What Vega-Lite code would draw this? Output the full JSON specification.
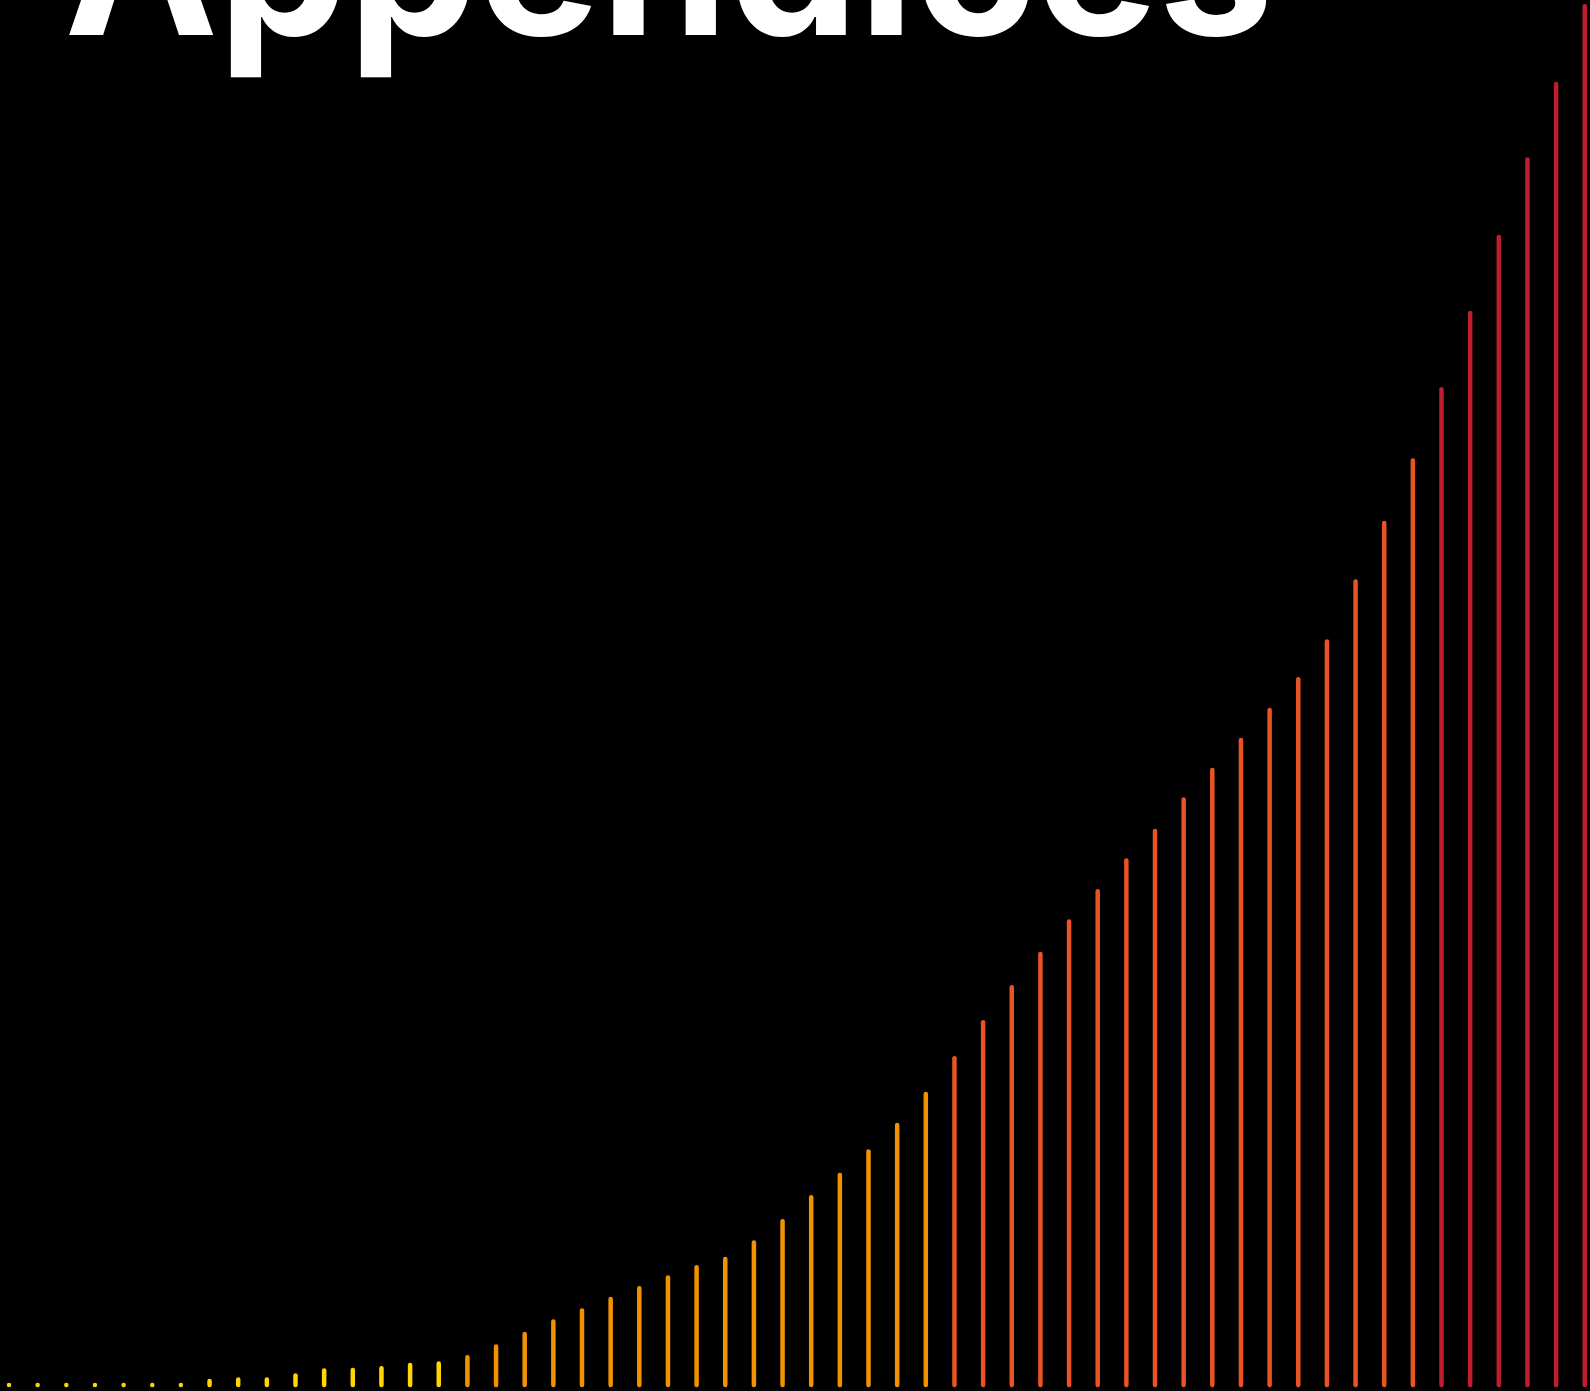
{
  "$schema": "https://vega.github.io/schema/vega-lite/v6.json",
  "width": 1590,
  "height": 1391,
  "autosize": {"type": "none"},
  "padding": 0,
  "background": "#000000",
  "config": {"view": {"stroke": null}},
  "datasets": {
    "bars": [
      {"i": 0, "v": 0, "group": "A"},
      {"i": 1, "v": 0, "group": "A"},
      {"i": 2, "v": 0, "group": "A"},
      {"i": 3, "v": 0, "group": "A"},
      {"i": 4, "v": 0, "group": "A"},
      {"i": 5, "v": 0, "group": "A"},
      {"i": 6, "v": 0, "group": "A"},
      {"i": 7, "v": 4, "group": "A"},
      {"i": 8, "v": 5.5, "group": "A"},
      {"i": 9, "v": 5.5, "group": "A"},
      {"i": 10, "v": 9.5, "group": "A"},
      {"i": 11, "v": 14.5, "group": "A"},
      {"i": 12, "v": 15, "group": "A"},
      {"i": 13, "v": 16.8, "group": "A"},
      {"i": 14, "v": 20, "group": "A"},
      {"i": 15, "v": 21.5, "group": "A"},
      {"i": 16, "v": 27.8, "group": "B"},
      {"i": 17, "v": 38.5, "group": "B"},
      {"i": 18, "v": 51, "group": "B"},
      {"i": 19, "v": 63.5, "group": "B"},
      {"i": 20, "v": 74.5, "group": "B"},
      {"i": 21, "v": 86, "group": "B"},
      {"i": 22, "v": 96.8, "group": "B"},
      {"i": 23, "v": 107.5, "group": "B"},
      {"i": 24, "v": 117.8, "group": "B"},
      {"i": 25, "v": 126, "group": "B"},
      {"i": 26, "v": 142.5, "group": "B"},
      {"i": 27, "v": 163.8, "group": "B"},
      {"i": 28, "v": 187.8, "group": "B"},
      {"i": 29, "v": 210, "group": "B"},
      {"i": 30, "v": 233.5, "group": "B"},
      {"i": 31, "v": 260, "group": "B"},
      {"i": 32, "v": 291, "group": "B"},
      {"i": 33, "v": 326.8, "group": "C"},
      {"i": 34, "v": 362.8, "group": "C"},
      {"i": 35, "v": 397.8, "group": "C"},
      {"i": 36, "v": 431, "group": "C"},
      {"i": 37, "v": 463.5, "group": "C"},
      {"i": 38, "v": 493.8, "group": "C"},
      {"i": 39, "v": 524.5, "group": "C"},
      {"i": 40, "v": 554, "group": "C"},
      {"i": 41, "v": 585.5, "group": "C"},
      {"i": 42, "v": 615, "group": "C"},
      {"i": 43, "v": 645, "group": "C"},
      {"i": 44, "v": 675, "group": "C"},
      {"i": 45, "v": 705.8, "group": "C"},
      {"i": 46, "v": 743.5, "group": "C"},
      {"i": 47, "v": 803.5, "group": "C"},
      {"i": 48, "v": 862, "group": "C"},
      {"i": 49, "v": 924.5, "group": "C"},
      {"i": 50, "v": 995.8, "group": "D"},
      {"i": 51, "v": 1072, "group": "D"},
      {"i": 52, "v": 1148, "group": "D"},
      {"i": 53, "v": 1225.5, "group": "D"},
      {"i": 54, "v": 1301, "group": "D"},
      {"i": 55, "v": 1378.8, "group": "D"}
    ],
    "label": [{"text": "Appendices", "i": 1.93, "v": 1350}]
  },
  "layer": [
    {
      "data": {"name": "bars"},
      "mark": {"type": "rule", "strokeWidth": 4.5, "strokeCap": "round"},
      "encoding": {
        "x": {"field": "i", "type": "quantitative", "scale": {"domain": [-0.314, 55.183], "nice": false, "zero": false}, "axis": null},
        "y": {"field": "v", "type": "quantitative", "scale": {"domain": [-6, 1385], "nice": false, "zero": false}, "axis": null},
        "y2": {"datum": 0},
        "color": {"field": "group", "type": "nominal", "scale": {"domain": ["A", "B", "C", "D"], "range": ["#FFD600", "#F39200", "#E95424", "#BE1E2D"]}, "legend": null}
      }
    },
    {
      "data": {"name": "label"},
      "mark": {"type": "text", "font": "Inter", "fontWeight": "bold", "fontSize": 206, "color": "#FFFFFF", "align": "left", "baseline": "alphabetic", "clip": true},
      "encoding": {
        "x": {"field": "i", "type": "quantitative"},
        "y": {"field": "v", "type": "quantitative"},
        "text": {"field": "text"}
      }
    }
  ]
}
